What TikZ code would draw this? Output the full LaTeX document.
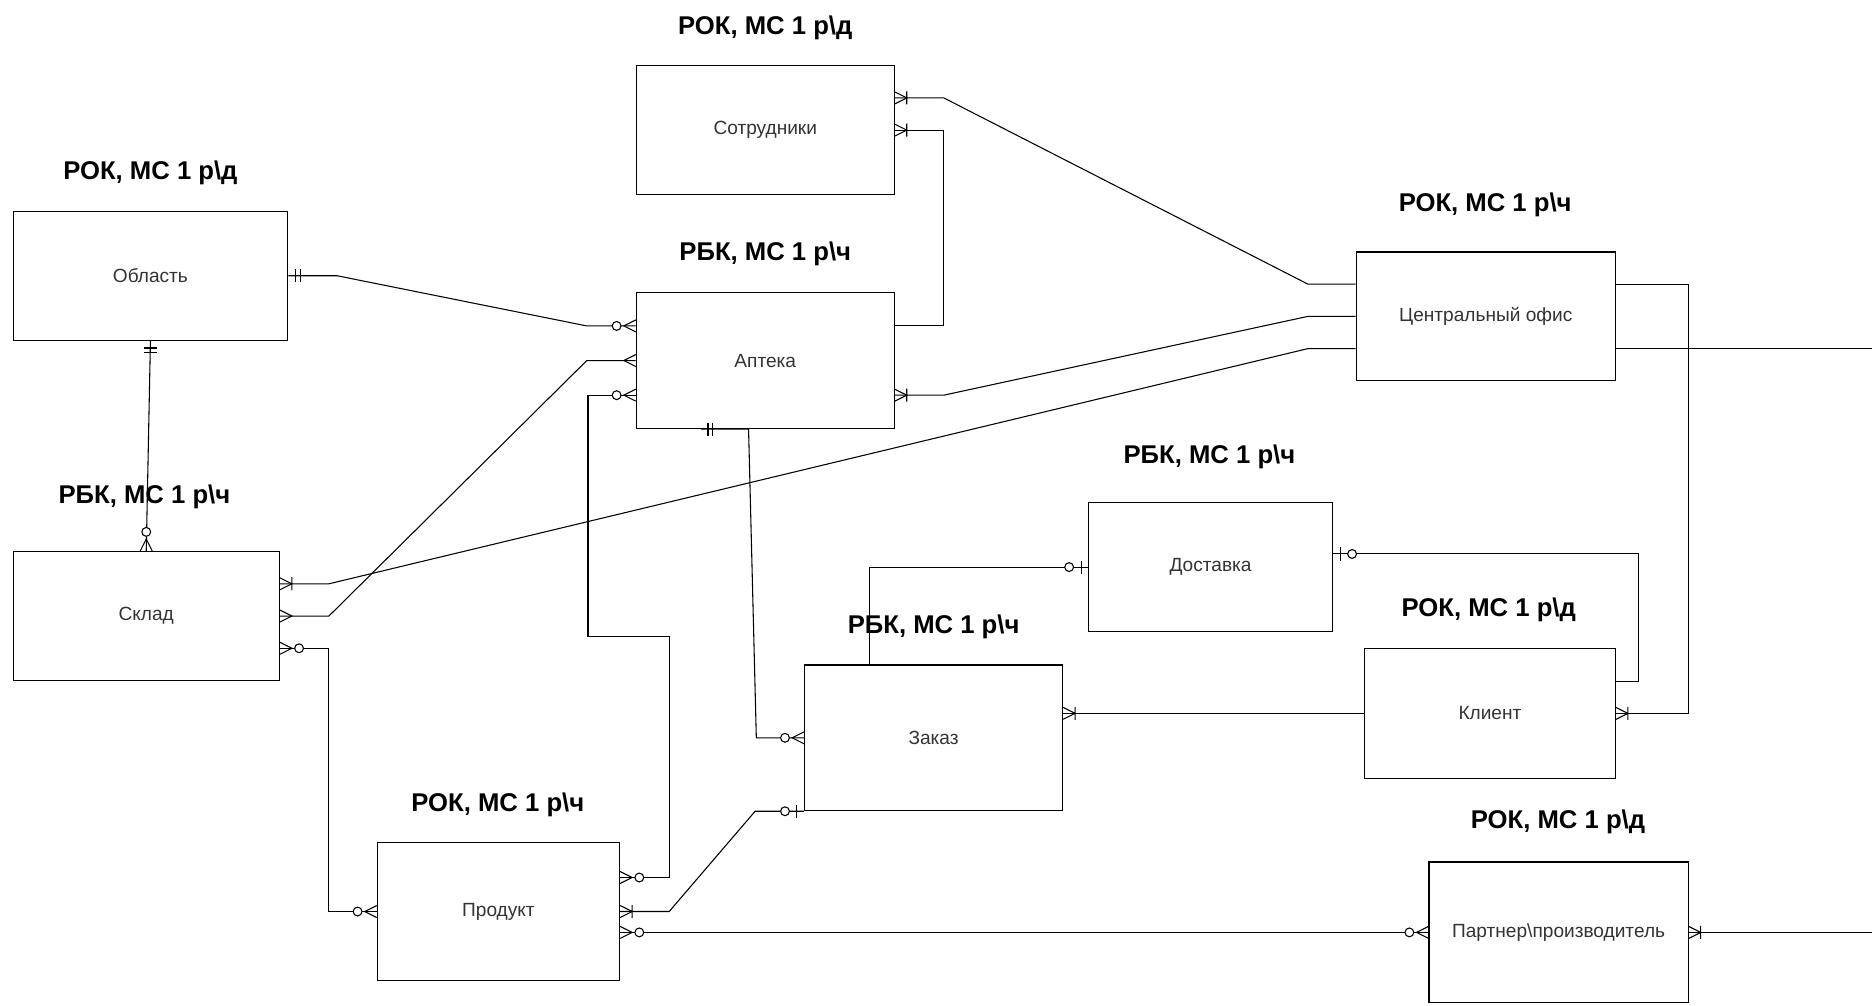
\documentclass[tikz,border=0pt]{standalone}
\usepackage{fontspec}
\setmainfont{Liberation Sans}
\usetikzlibrary{calc}
\tikzset{
  pics/many/.style={code={\draw[line width=0.9pt] (0,-5)--(10,0)--(0,5);}},
  pics/onemany/.style={code={\draw[line width=0.9pt] (0,-5)--(10,0)--(0,5) (10,-5.5)--(10,5.5);}},
  pics/zeromany/.style={code={\draw[line width=0.9pt] (0,-5)--(10,0)--(0,5);
    \draw[line width=0.9pt,fill=white] (16,0) circle[radius=3.7pt];}},
  pics/onlyone/.style={code={\draw[line width=0.9pt] (6,-5.5)--(6,5.5) (10,-5.5)--(10,5.5);}},
  pics/zeroone/.style={code={\draw[line width=0.9pt] (6,-5.5)--(6,5.5);
    \draw[line width=0.9pt,fill=white] (16,0) circle[radius=3.7pt];}},
}

\begin{document}
\begin{tikzpicture}[x=1pt,y=-1pt,
  entity/.style={draw,line width=1pt,font=\fontsize{16}{19}\selectfont,text=black!80},
  ttl/.style={font=\fontsize{21.5}{25}\selectfont\bfseries},
  rel/.style={line width=0.9pt}]
  \useasboundingbox[fill=white] (0,0) rectangle (1568,842);
  % entities
  \node[entity,minimum width=216pt,minimum height=108pt] (sotr) at (641,109) {Сотрудники};
  \node[entity,minimum width=230pt,minimum height=108pt] (obl) at (126,231) {Область};
  \node[entity,minimum width=216pt,minimum height=114pt] (apt) at (641,302) {Аптека};
  \node[entity,minimum width=217pt,minimum height=108pt] (cof) at (1244.5,265) {Центральный офис};
  \node[entity,minimum width=223pt,minimum height=108pt] (skl) at (122.5,516) {Склад};
  \node[entity,minimum width=204pt,minimum height=108pt] (dost) at (1014,475) {Доставка};
  \node[entity,minimum width=216pt,minimum height=122pt] (zak) at (782,618) {Заказ};
  \node[entity,minimum width=210pt,minimum height=109pt] (kli) at (1248,597.5) {Клиент};
  \node[entity,minimum width=203pt,minimum height=115pt] (prod) at (417.5,763.5) {Продукт};
  \node[entity,minimum width=217pt,minimum height=118pt] (part) at (1305.5,781) {Партнер\textbackslash производитель};
  % titles
  \foreach \nm/\tx/\ty/\tk/\tu in {sotr/641/23/РОК/д, obl/126/145/РОК/д, apt/641/213/РБК/ч,
      cof/1244/172/РОК/ч, skl/121/416/РБК/ч, dost/1013/383/РБК/ч, zak/782/525/РБК/ч,
      kli/1247/511/РОК/д, prod/417/674/РОК/ч, part/1305/688/РОК/д}
    \node[ttl] (t\nm) at (\tx,\ty) {\tk, МС 1 р\textbackslash\tu};
  % relations
  \draw[rel] ([yshift=27pt]sotr.east) -- ++(41,0) -- ([xshift=-40pt,yshift=27pt]cof.west) -- ([yshift=27pt]cof.west);
  \draw[rel] (sotr.east) -- ++(41,0) |- ([yshift=29pt]apt.east);
  \draw[rel] ([yshift=-29pt]apt.east) -- ++(41,0) -- ([xshift=-40pt]cof.west) -- (cof.west);
  \draw[rel] ([yshift=27pt]skl.east) -- ++(41,0) -- ([xshift=-40pt,yshift=-27pt]cof.west) -- ([yshift=-27pt]cof.west);
  \draw[rel] ([yshift=27pt]cof.east) -- ++(61,0) |- (kli.east);
  \draw[rel] ([yshift=-27pt]cof.east) -- ++(216,0);
  \draw[rel] (part.east) -- ++(156,0);
  \draw[rel] (obl.east) -- ++(41,0) -- ([xshift=-41pt,yshift=29pt]apt.west) -- ([yshift=29pt]apt.west);
  \draw[rel] (skl.east) -- ++(41,0) -- ([xshift=-41pt]apt.west) -- (apt.west);
  \draw[rel] ([yshift=28.5pt]prod.east) -- ++(41,0) -- ++(0,-202) -- ++(-68,0) |- ([yshift=-29pt]apt.west);
  \draw[rel] (obl.south) -- (skl.north);
  \draw[rel] ([yshift=-27pt]skl.east) -- ++(41,0) |- (prod.west);
  \draw[rel] ([xshift=-54pt]apt.south) -- ([xshift=-14pt]apt.south) -- ([xshift=-40pt]zak.west) -- (zak.west);
  \draw[rel] (dost.west) -| ([xshift=-54pt]zak.north);
  \draw[rel] ([yshift=11pt]dost.east) -- ++(256,0) |- ([yshift=26.5pt]kli.east);
  \draw[rel] (kli.west) -- (kli.west -| zak.east);
  \draw[rel] (prod.east) -- ++(41,0) -- ([xshift=-41pt]zak.south west) -- (zak.south west);
  \draw[rel] (part.west -| prod.east) -- (part.west);
  % ends
  \pic at ([yshift=27pt]sotr.east) {onemany};
  \pic at (sotr.east) {onemany};
  \pic at ([yshift=-29pt]apt.east) {onemany};
  \pic at ([yshift=27pt]skl.east) {onemany};
  \pic at (kli.east) {onemany};
  \pic at (part.east) {onemany};
  \pic at (obl.east) {onlyone};
  \pic[rotate=180] at ([yshift=29pt]apt.west) {zeromany};
  \pic at (skl.east) {many};
  \pic[rotate=180] at (apt.west) {many};
  \pic at ([yshift=28.5pt]prod.east) {zeromany};
  \pic[rotate=180] at ([yshift=-29pt]apt.west) {zeromany};
  \pic[rotate=-90] at (obl.south) {onlyone};
  \pic[rotate=90] at (skl.north) {zeromany};
  \pic at ([yshift=-27pt]skl.east) {zeromany};
  \pic[rotate=180] at (prod.west) {zeromany};
  \pic at ([xshift=-54pt]apt.south) {onlyone};
  \pic[rotate=180] at (zak.west) {zeromany};
  \pic[rotate=180] at (dost.west) {zeroone};
  \pic at ([yshift=11pt]dost.east) {zeroone};
  \pic at (kli.west -| zak.east) {onemany};
  \pic at (prod.east) {onemany};
  \pic[rotate=180] at (zak.south west) {zeroone};
  \pic at (part.west -| prod.east) {zeromany};
  \pic[rotate=180] at (part.west) {zeromany};
\end{tikzpicture}
\end{document}
